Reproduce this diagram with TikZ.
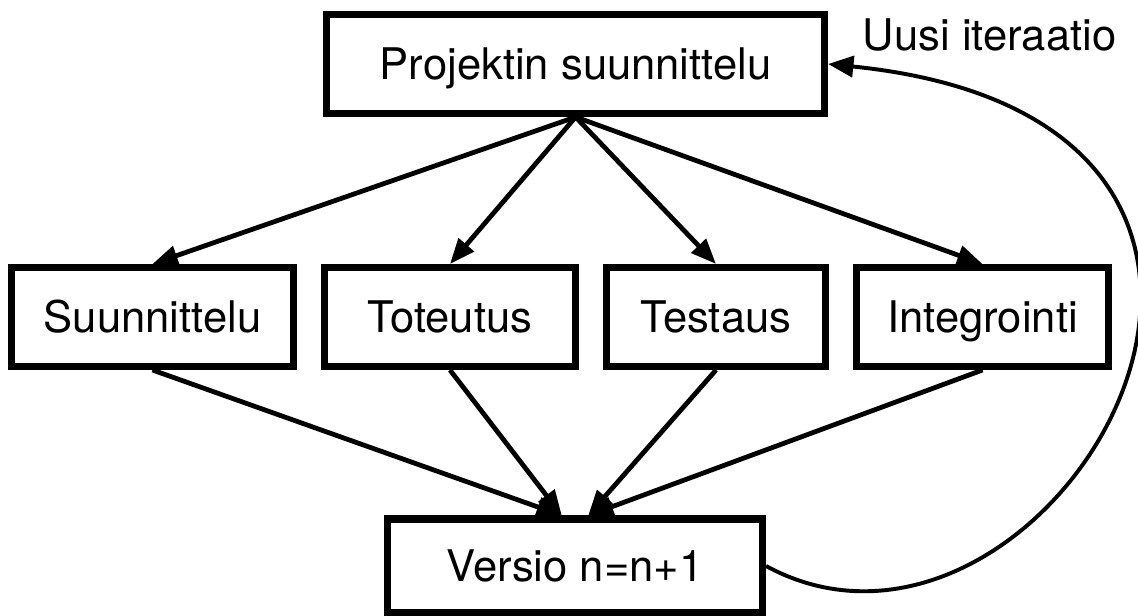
\documentclass[tikz,border=0pt]{standalone}
\usepackage{fontspec}
\setmainfont{TeX Gyre Heros}
\usetikzlibrary{arrows.meta}
\tikzset{box/.style={draw, line width=5pt, inner sep=0pt, minimum height=2.475cm, text height=0.785cm, text depth=0pt, font=\fontsize{31}{37}\selectfont}}
\tikzset{flow/.style={line width=3.4pt, -{Triangle[length=18pt, width=14pt]}}}
\tikzset{iterback/.style={line width=2.8pt, -{Triangle[length=18pt, width=15pt]}}}

\begin{document}
\begin{tikzpicture}
        \useasboundingbox (0,0) rectangle (28.45,-15.375);

        \node[box, minimum width=12.45cm] (plan) at (14.39, -1.6) {Projektin suunnittelu};

        \node[box, minimum width=7.05cm] (design) at (3.8125, -7.925) {Suunnittelu};
        \node[box, minimum width=6.275cm] (impl) at (11.25, -7.925) {Toteutus};
        \node[box, minimum width=5.475cm] (test) at (17.9, -7.925) {Testaus};
        \node[box, minimum width=6.3cm] (integ) at (24.5625, -7.925) {Integrointi};

        \node[box, minimum width=9.375cm, minimum height=2.35cm] (versio) at (14.375, -14.15) {Versio n=n+1};

        \coordinate (vl) at ([xshift=-0.33cm]versio.north);
        \coordinate (vr) at ([xshift=0.33cm]versio.north);

        \draw [flow] (plan.south) -- (design.north);
        \draw [flow] (plan.south) -- (impl.north);
        \draw [flow] (plan.south) -- (test.north);
        \draw [flow] (plan.south) -- (integ.north);

        \draw [flow] (design.south) -- (vl);
        \draw [flow] (impl.south) -- (vl);
        \draw [flow] (test.south) -- (vr);
        \draw [flow] (integ.south) -- (vr);

        \draw [iterback] (versio.east) .. controls (26.25, -18.0) and (35, -3.05) .. (plan.east);
        \node[anchor=base west, font=\fontsize{31}{37}\selectfont] (iterlabel) at (21.45, -1.25) {Uusi iteraatio};

    \end{tikzpicture}
\end{document}
